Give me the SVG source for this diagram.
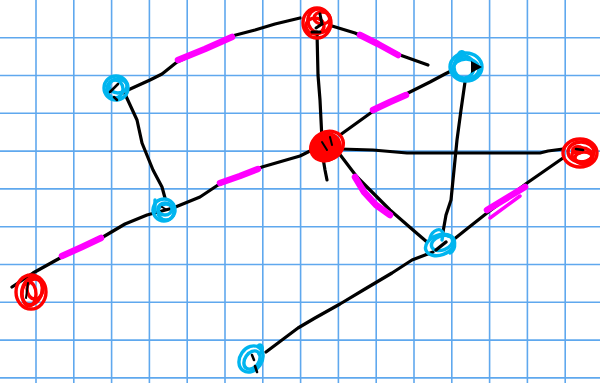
<svg xmlns="http://www.w3.org/2000/svg" width="600" height="383" viewBox="0 0 600 383">
<style>
.grid line{stroke:#5fa8ee;stroke-width:1.6}
.edge{fill:none;stroke:#000;stroke-width:3.2;stroke-linecap:round;stroke-linejoin:round}
.hl{fill:none;stroke:#ff00ff;stroke-width:6.5;stroke-linecap:round;stroke-linejoin:round}
.red{fill:none;stroke:#ff0000;stroke-width:3.4;stroke-linecap:round}
.blue{fill:none;stroke:#00b5ef;stroke-width:3.4;stroke-linecap:round}
.dot{fill:none;stroke:#000;stroke-width:3;stroke-linecap:round}
</style>
<rect width="600" height="383" fill="#fff"/>
<g class="grid">
<line x1="36" y1="0" x2="36" y2="383"/><line x1="73.8" y1="0" x2="73.8" y2="383"/><line x1="111.6" y1="0" x2="111.6" y2="383"/><line x1="149.4" y1="0" x2="149.4" y2="383"/><line x1="187.2" y1="0" x2="187.2" y2="383"/><line x1="225" y1="0" x2="225" y2="383"/><line x1="262.8" y1="0" x2="262.8" y2="383"/><line x1="300.6" y1="0" x2="300.6" y2="383"/><line x1="338.4" y1="0" x2="338.4" y2="383"/><line x1="376.2" y1="0" x2="376.2" y2="383"/><line x1="414" y1="0" x2="414" y2="383"/><line x1="451.8" y1="0" x2="451.8" y2="383"/><line x1="489.6" y1="0" x2="489.6" y2="383"/><line x1="527.4" y1="0" x2="527.4" y2="383"/><line x1="565.2" y1="0" x2="565.2" y2="383"/>
<line x1="0" y1="37.7" x2="600" y2="37.7"/><line x1="0" y1="75.5" x2="600" y2="75.5"/><line x1="0" y1="113.3" x2="600" y2="113.3"/><line x1="0" y1="151.1" x2="600" y2="151.1"/><line x1="0" y1="188.9" x2="600" y2="188.9"/><line x1="0" y1="226.7" x2="600" y2="226.7"/><line x1="0" y1="264.5" x2="600" y2="264.5"/><line x1="0" y1="302.3" x2="600" y2="302.3"/><line x1="0" y1="340.1" x2="600" y2="340.1"/><line x1="0" y1="377.9" x2="600" y2="377.9"/>
</g>
<g id="connectors">
<path class="edge" d="M128,90 L150,80 L162,74 L177,62 L205,49 L232,36 L255,30 L275,24 L300,18"/>
<path class="hl" d="M178,60 L205,49 L232,37"/>
<path class="edge" d="M332,26 L355,33 L372,41 L400,55 L428,65"/>
<path class="hl" d="M360,35 L378,44 L398,55"/>
<path class="edge" d="M317,32 L318,75 L320,100 L321,120 L322,140"/>
<path class="edge" d="M323,158 L325,170 L327,180"/>
<path class="edge" d="M340,135 L372,112 L400,97 L430,82 L445,74 L453,70"/>
<path class="hl" d="M373,110 L390,102 L406,95"/>
<path class="edge" d="M340,149 L373,150 L407,153 L540,153 L548,151 L563,149"/>
<path class="edge" d="M338,152 L357,177 L390,210 L413,230 L427,242"/>
<path class="hl" d="M355,177 L364,192 L376,205 L390,215"/>
<path class="edge" d="M465,82 L461,110 L457,140 L451,200 L446,215 L443,232"/>
<path class="edge" d="M563,158 L527,183 L487,213 L468,228 L453,240"/>
<path class="hl" d="M487,210 L525,187"/>
<path class="hl" d="M490,218 L520,196" style="stroke-width:3.5"/>
<path class="edge" d="M433,252 L412,260 L392,273 L365,289 L340,304 L315,318 L298,328 L282,340 L266,352"/>
<path class="edge" d="M125,94 L137,120 L142,143 L153,170 L162,187 L165,198"/>
<path class="edge" d="M318,147 L300,156 L262,167 L240,176 L218,185 L200,197 L173,208 L147,215 L125,224 L103,237 L60,258 L33,273 L12,287"/>
<path class="hl" d="M220,183 L240,176 L258,169"/>
<path class="hl" d="M62,256 L82,247 L101,238"/>
</g>
<g id="n-red-top">
<ellipse class="red" cx="317" cy="23" rx="14" ry="15"/>
<ellipse class="red" cx="319" cy="21" rx="11" ry="12" transform="rotate(-20 319 21)"/>
<ellipse class="red" cx="315" cy="26" rx="9" ry="8"/>
<ellipse class="red" cx="322" cy="18" rx="8" ry="6"/>
<path class="dot" d="M320,14 L322,24 L316,28 M312,32 L320,32"/>
</g>
<g id="n-red-center">
<ellipse cx="326" cy="147" rx="16" ry="15" fill="#ff0000" transform="rotate(-25 326 147)"/>
<ellipse class="red" cx="327" cy="146" rx="17" ry="14" transform="rotate(-30 327 146)"/>
<path class="dot" d="M322,142 L327,150 M330,137 L332,145" style="stroke-width:2"/>
</g>
<g id="n-red-right">
<ellipse class="red" cx="580" cy="153" rx="17" ry="14"/>
<ellipse class="red" cx="581" cy="152" rx="13" ry="10"/>
<ellipse class="red" cx="582" cy="155" rx="10" ry="7"/>
<ellipse class="red" cx="584" cy="158" rx="9" ry="6"/>
<ellipse cx="578" cy="150" rx="7" ry="5" fill="#ff0000"/>
<path class="dot" d="M576,149 L583,150" style="stroke-width:2.5"/>
</g>
<g id="n-red-bl">
<ellipse class="red" cx="31" cy="292" rx="15" ry="17"/>
<ellipse class="red" cx="32" cy="291" rx="10" ry="14" transform="rotate(15 32 291)"/>
<ellipse class="red" cx="29" cy="294" rx="7" ry="12"/>
<ellipse class="red" cx="35" cy="289" rx="8" ry="10"/>
<path class="dot" d="M28,283 L26,298" style="stroke-width:2"/>
</g>
<g id="n-blue-left">
<ellipse class="blue" cx="116" cy="88" rx="12" ry="12"/>
<ellipse class="blue" cx="115" cy="89" rx="8" ry="9"/>
<ellipse class="blue" cx="118" cy="86" rx="9" ry="7"/>
<path class="dot" d="M110,92 L118,84 M114,97 L117,100" style="stroke-width:2.5"/>
</g>
<g id="n-blue-ur">
<ellipse class="blue" cx="466" cy="67" rx="16" ry="14"/>
<ellipse class="blue" cx="464" cy="67" rx="10" ry="11"/>
<ellipse class="blue" cx="466" cy="69" rx="13" ry="10"/>
<path class="blue" d="M458,57 C458,50 466,50 464,56"/>
<path d="M471,61 L482,67 L471,73 Z" fill="#000"/>
</g>
<g id="n-blue-ml">
<ellipse class="blue" cx="164" cy="210" rx="11" ry="11" transform="rotate(-20 164 210)"/>
<ellipse class="blue" cx="165" cy="209" rx="7" ry="6"/>
<ellipse class="blue" cx="166" cy="212" rx="8" ry="8"/>
<path class="blue" d="M155,200 L155,212"/>
<path class="dot" d="M162,207 L167,210" style="stroke-width:2"/>
</g>
<g id="n-blue-lc">
<ellipse class="blue" cx="440" cy="245" rx="15" ry="10" transform="rotate(-20 440 245)"/>
<ellipse class="blue" cx="442" cy="243" rx="11" ry="7" transform="rotate(-20 442 243)"/>
<path class="blue" d="M430,238 C432,230 442,226 443,234 L442,240 M448,236 C456,236 457,250 450,253"/>
<path class="dot" d="M436,250 L446,242" style="stroke-width:3.5"/>
</g>
<g id="n-blue-bottom">
<ellipse class="blue" cx="251" cy="359" rx="11" ry="14" transform="rotate(35 251 359)"/>
<ellipse class="blue" cx="252" cy="360" rx="7" ry="10" transform="rotate(35 252 360)"/>
<path class="blue" d="M258,346 C263,342 264,352 259,354"/>
<path class="dot" d="M252,355 L254,360 M255,366 L257,372" style="stroke-width:2.5"/>
</g>
</svg>
